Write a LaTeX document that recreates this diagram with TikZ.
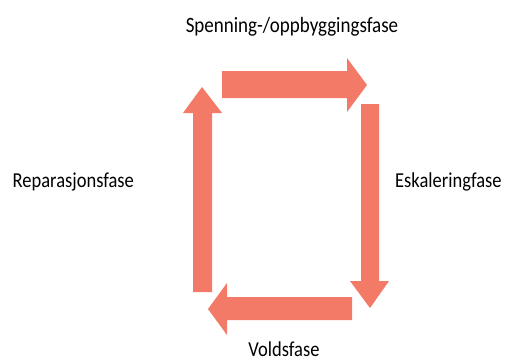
\documentclass[tikz,border=0pt]{standalone}
\usepackage{fontspec}
\setmainfont{Carlito}
\definecolor{salmon}{RGB}{242,122,102}
\begin{document}
\begin{tikzpicture}[x=1pt,y=-1pt,
  blockarrow/.style={fill=salmon,draw=none},
  lbl/.style={inner sep=0pt,font=\fontsize{18.5}{20}\selectfont,yscale=1.15,text=black}]
\useasboundingbox[fill=white] (0,0) rectangle (505,361);
% top arrow (rightwards)
\fill[blockarrow] (222,71) -- (347,71) -- (347,58) -- (367,85) -- (347,112) -- (347,98) -- (222,98) -- cycle;
% right arrow (downwards)
\fill[blockarrow] (361,104) -- (379,104) -- (379,281) -- (389,281) -- (370,308) -- (350,281) -- (361,281) -- cycle;
% bottom arrow (leftwards)
\fill[blockarrow] (352,297) -- (227,297) -- (227,283) -- (208,309) -- (227,335) -- (227,320) -- (352,320) -- cycle;
% left arrow (upwards)
\fill[blockarrow] (193,292) -- (193,113) -- (183,113) -- (202,87) -- (222,113) -- (212,113) -- (212,292) -- cycle;
\node[lbl,anchor=base,font=\fontsize{19}{21}\selectfont] (top) at (292,33) {Spenning-/oppbyggingsfase};
\node[lbl,anchor=base west] (left) at (12.5,187) {Reparasjonsfase};
\node[lbl,anchor=base west] (right) at (395,187) {Eskaleringfase};
\node[lbl,anchor=base] (bottom) at (284,356) {Voldsfase};
\end{tikzpicture}
\end{document}
